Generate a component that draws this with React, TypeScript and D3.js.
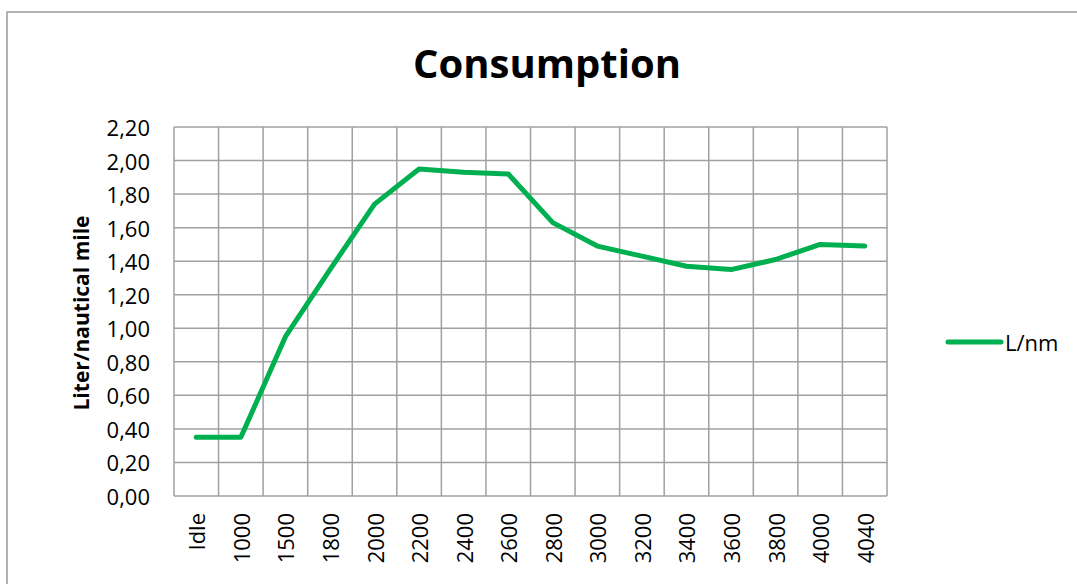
import React from 'react';
import * as d3 from 'd3';

const categories = ['Idle', '1000', '1500', '1800', '2000', '2200', '2400', '2600', '2800', '3000', '3200', '3400', '3600', '3800', '4000', '4040'];
const litersPerNm = [0.35, 0.35, 0.95, 1.35, 1.74, 1.95, 1.93, 1.92, 1.63, 1.49, 1.43, 1.37, 1.35, 1.41, 1.50, 1.49];
const yTicks = [0, 0.2, 0.4, 0.6, 0.8, 1.0, 1.2, 1.4, 1.6, 1.8, 2.0, 2.2];

const font = '"Open Sans", sans-serif';
const green = '#00B050';
const grid = '#A0A0A0';

export default function App() {
  const width = 1077;
  const height = 584;
  const left = 174;
  const right = 887;
  const top = 127;
  const bottom = 496;

  const x = d3.scaleBand().domain(categories).range([left, right]);
  const y = d3.scaleLinear().domain([0, 2.2]).range([bottom, top]);

  const line = d3
    .line<number>()
    .x((d, i) => (x(categories[i]) as number) + x.bandwidth() / 2)
    .y(d => y(d));

  const fmt = (v: number) => d3.format('.2f')(v).replace('.', ',');

  return (
    <svg width={width} height={height} style={{ position: 'absolute', left: 0, top: 0 }}>
      <rect x={0} y={0} width={width} height={height} fill="#fff" />
      <rect x={7} y={12} width={width + 20} height={height + 20} fill="none" stroke="#999" strokeWidth={1.5} />

      <text x={547} y={78} textAnchor="middle" fontFamily={font} fontWeight="bold" fontSize={40} fill="#000">
        Consumption
      </text>

      {yTicks.map(t => (
        <line key={'h' + t} x1={left} x2={right} y1={y(t)} y2={y(t)} stroke={grid} strokeWidth={1.5} />
      ))}
      {categories.map(c => (
        <line key={'v' + c} x1={x(c)} x2={x(c)} y1={top} y2={bottom} stroke={grid} strokeWidth={1.5} />
      ))}
      <line x1={right} x2={right} y1={top} y2={bottom} stroke={grid} strokeWidth={1.5} />

      {yTicks.map(t => (
        <text key={'yl' + t} x={150} y={y(t)} textAnchor="end" dominantBaseline="central" fontFamily={font} fontSize={22} fill="#000">
          {fmt(t)}
        </text>
      ))}

      {categories.map(c => {
        const cx = (x(c) as number) + x.bandwidth() / 2;
        return (
          <text key={'xl' + c} transform={`translate(${cx},513) rotate(-90)`} textAnchor="end" dominantBaseline="central" fontFamily={font} fontSize={22} fill="#000">
            {c}
          </text>
        );
      })}

      <text transform={`translate(81,313) rotate(-90)`} textAnchor="middle" dominantBaseline="central" fontFamily={font} fontWeight="bold" fontSize={21} fill="#000">
        Liter/nautical mile
      </text>

      <path d={line(litersPerNm) as string} fill="none" stroke={green} strokeWidth={5} strokeLinejoin="round" strokeLinecap="round" />

      <line x1={948} x2={1001} y1={342} y2={342} stroke={green} strokeWidth={5} strokeLinecap="round" />
      <text x={1005} y={342} dominantBaseline="central" fontFamily={font} fontSize={22} fill="#000">
        L/nm
      </text>
    </svg>
  );
}
